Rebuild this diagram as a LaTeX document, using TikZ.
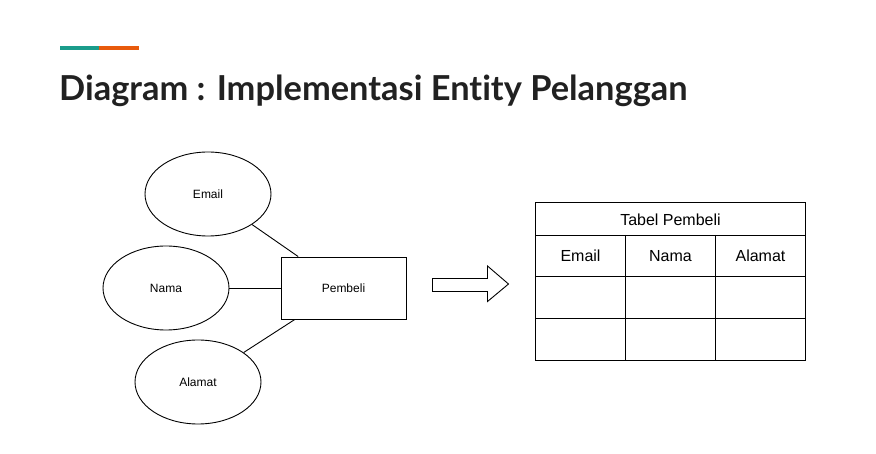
\documentclass[tikz,border=0pt]{standalone}
\usepackage{fontspec}
\usetikzlibrary{shapes.geometric}
\setmainfont{Liberation Sans}
\newfontfamily\titlefont[Ligatures={NoCommon}]{Lato}
\definecolor{barteal}{HTML}{1A9C8B}
\definecolor{barorange}{HTML}{E85A0C}
\definecolor{titlecol}{HTML}{212121}
\begin{document}
\begin{tikzpicture}[x=1pt,y=-1pt,
  lw/.style={line width=0.9pt},
  attr/.style={ellipse, draw, lw, minimum width=126pt, minimum height=84pt, inner sep=0pt, font=\fontsize{12}{14}\selectfont},
  entity/.style={rectangle, draw, lw, minimum width=125pt, minimum height=62pt, inner sep=0pt, font=\fontsize{12}{14}\selectfont},
  link/.style={lw},
  cell/.style={font=\fontsize{16}{18}\selectfont, anchor=base, inner sep=0pt}
]
\useasboundingbox (0,0) rectangle (876,454);
% top bar
\fill[barteal] (60,46) rectangle (99,50.5);
\fill[barorange] (99,46) rectangle (139,50.5);
% title
\node[anchor=base west, inner sep=0pt, text=titlecol, font=\titlefont\bfseries\fontsize{34.4}{38}\selectfont] (title) at (59,101) {Diagram : Implementasi Entity Pelanggan};
% ER part
\node[entity] (pembeli) at (343.5,288) {Pembeli};
\node[attr] (email) at (208,194) {Email};
\node[attr] (nama) at (166,288) {Nama};
\node[attr] (alamat) at (198,382) {Alamat};
\draw[link] (email) -- (pembeli);
\draw[link] (nama) -- (pembeli);
\draw[link] (alamat) -- (pembeli);
% arrow
\draw[lw, line join=miter] (432.5,278.5) -- (487.5,278.5) -- (487.5,266) -- (508.5,284) -- (487.5,301.5) -- (487.5,291.5) -- (432.5,291.5) -- cycle;
% table
\draw[lw] (535.5,202.5) rectangle (805.5,360);
\draw[lw] (535.5,235) -- (805.5,235);
\draw[lw] (535.5,276.5) -- (805.5,276.5);
\draw[lw] (535.5,318.5) -- (805.5,318.5);
\draw[lw] (625.5,235) -- (625.5,360);
\draw[lw] (715.5,235) -- (715.5,360);
\node[cell] (thead) at (670.5,226) {Tabel Pembeli};
\node[cell] (cemail) at (580.5,262) {Email};
\node[cell] (cnama) at (670.5,262) {Nama};
\node[cell] (calamat) at (760.5,262) {Alamat};
\end{tikzpicture}
\end{document}
